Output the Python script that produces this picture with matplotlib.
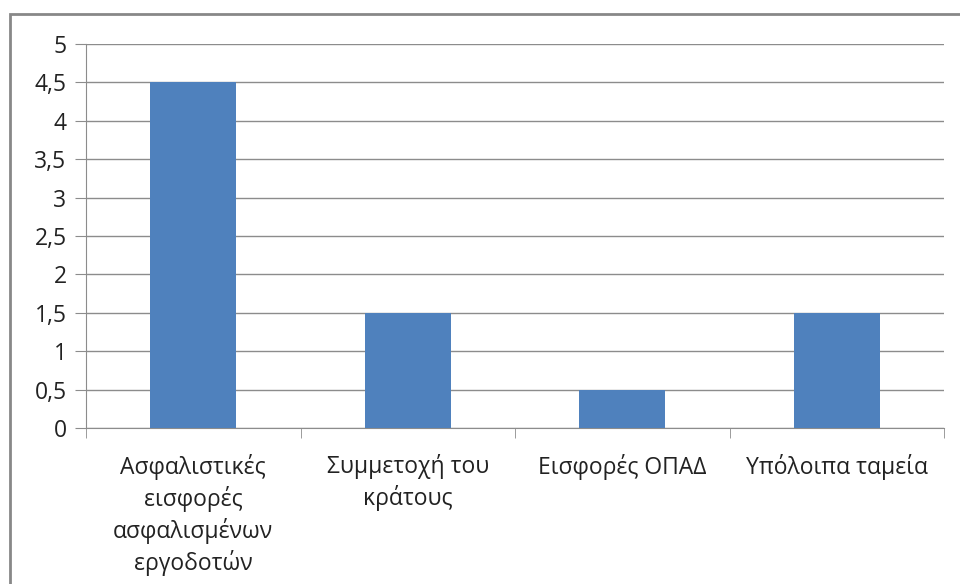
import numpy as np
import matplotlib
matplotlib.use("Agg")
import matplotlib.pyplot as plt
from matplotlib.patches import Rectangle

categories = ["Ασφαλιστικές\nεισφορές\nασφαλισμένων\nεργοδοτών",
              "Συμμετοχή του\nκράτους",
              "Εισφορές ΟΠΑΔ",
              "Υπόλοιπα ταμεία"]
values = [4.5, 1.5, 0.5, 1.5]
yticks = [0, 0.5, 1, 1.5, 2, 2.5, 3, 3.5, 4, 4.5, 5]

plt.rcParams["font.family"] = ["Open Sans", "DejaVu Sans"]

fig = plt.figure(figsize=(9.6, 5.84), dpi=100)
ax = fig.add_axes([86 / 960, 1 - 428 / 584, (944 - 86) / 960, (428 - 44) / 584])

xs = np.arange(len(categories))
ax.bar(xs, values, width=0.4, color="#4F81BD", zorder=3)

ax.set_xlim(-0.5, len(categories) - 0.5)
ax.set_ylim(0, 5)
ax.set_yticks(yticks)
ax.set_yticklabels([f"{v:g}".replace(".", ",") for v in yticks], fontsize=16.5, color="#222222")
ax.yaxis.grid(True, color="#8c8c8c", lw=1, zorder=0)

ax.set_xticks(xs)
ax.set_xticklabels(categories, fontsize=16.5, color="#222222", linespacing=1.3)
ax.tick_params(axis="x", length=0, pad=19)
ax.set_xticks(np.arange(-0.5, len(categories)), minor=True)
ax.tick_params(axis="x", which="minor", length=7, color="#8c8c8c", direction="out")
ax.tick_params(axis="y", length=8, color="#8c8c8c", pad=6)

for s in ["top", "right"]:
    ax.spines[s].set_visible(False)
for s in ["left", "bottom"]:
    ax.spines[s].set_color("#8c8c8c")

# outer chart border (cropped at right and bottom)
fig.patches.append(Rectangle((9.5 / 960, -0.1), 1.2, 1 - 14 / 584 + 0.1,
                             transform=fig.transFigure, fill=False,
                             ec="#888888", lw=2))

plt.savefig("out.png", dpi=100)
